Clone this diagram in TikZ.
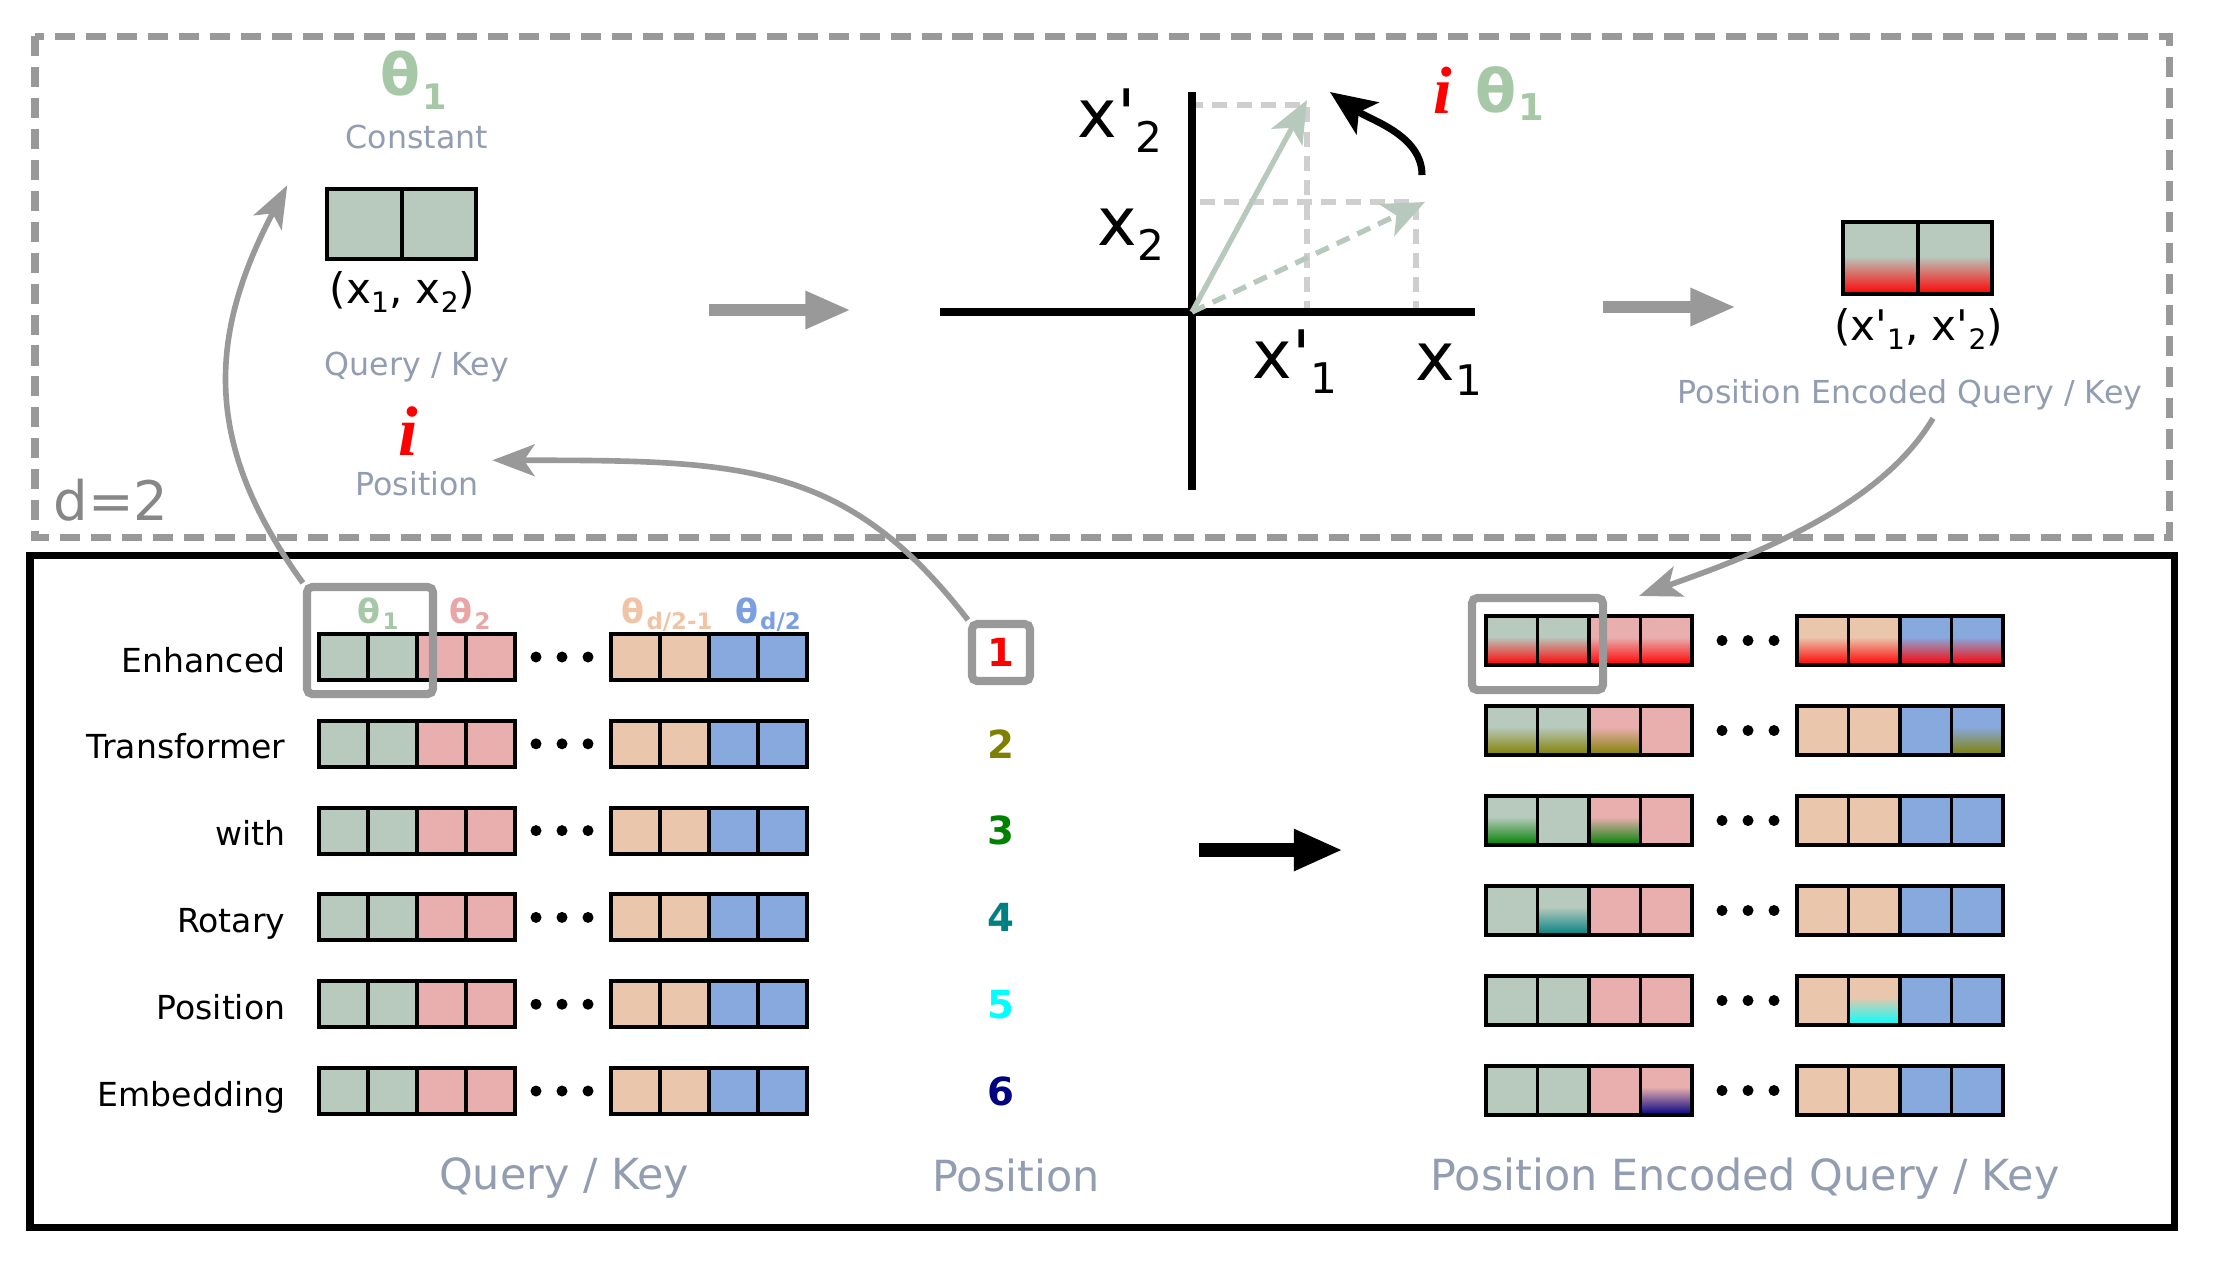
\documentclass[tikz,border=0pt]{standalone}
\usepackage{fontspec}
\setmainfont{DejaVu Sans}
\newfontfamily\serifbi{Liberation Serif}
\usetikzlibrary{arrows.meta,calc,positioning}

\definecolor{cellG}{HTML}{B8C9BD}
\definecolor{cellP}{HTML}{E9AFAF}
\definecolor{cellO}{HTML}{EAC7AC}
\definecolor{cellB}{HTML}{87A9DE}
\definecolor{thG}{HTML}{A6C8A6}
\definecolor{thP}{HTML}{E8A6A6}
\definecolor{thO}{HTML}{F0C4A4}
\definecolor{thB}{HTML}{7B9FE0}
\definecolor{labgray}{HTML}{929DB1}
\definecolor{arrgray}{HTML}{999999}
\definecolor{projgray}{HTML}{CFCFCF}
\definecolor{vecgreen}{HTML}{B7C8BC}
\definecolor{posA}{HTML}{FF0000}
\definecolor{posB}{HTML}{808000}
\definecolor{posC}{HTML}{008000}
\definecolor{posD}{HTML}{008080}
\definecolor{posE}{HTML}{00FFFF}
\definecolor{posF}{HTML}{000080}
\colorlet{cbase1}{cellG}\colorlet{cbase2}{cellG}
\colorlet{cbase3}{cellP}\colorlet{cbase4}{cellP}
\colorlet{cbase5}{cellO}\colorlet{cbase6}{cellO}
\colorlet{cbase7}{cellB}\colorlet{cbase8}{cellB}

\tikzset{%
  % Specifications for style of cells, labels and arrows:
  cellbox/.style    = {draw=black, line width=1.1pt},
  hlbox/.style      = {draw=arrgray, line width=2.3pt, rounded corners=1.5pt, inner sep=0pt},
  lab/.style        = {text=labgray, inner sep=0pt, font=\fontsize{9}{10}\selectfont},
  biglab/.style     = {text=labgray, inner sep=0pt, font=\fontsize{12.2}{14}\selectfont},
  rowlab/.style     = {anchor=base east, inner sep=0pt, font=\fontsize{9.4}{11}\selectfont},
  numlab/.style     = {inner sep=0pt, font=\bfseries\fontsize{11}{12}\selectfont},
  axlab/.style      = {anchor=base west, inner sep=0pt, font=\fontsize{19}{20}\selectfont},
  blockarrow/.style = {draw=arrgray, line width=3.6pt, -{Triangle[length=13pt,width=10pt]}},
  curvearrow/.style = {draw=arrgray, line width=1.6pt, -{Stealth[length=12pt,width=9pt,inset=3pt]}},
  vec/.style        = {draw=vecgreen, line width=1.5pt, -{Stealth[length=12pt,width=10pt,inset=3pt]}},
  projline/.style   = {draw=projgray, line width=1.7pt, dash pattern=on 4.3pt off 2.6pt}
}

\newcommand{\axsub}[1]{\raisebox{-4.3pt}{\fontsize{12}{12}\selectfont #1}}
\newcommand{\smsub}[1]{\raisebox{-2.6pt}{\fontsize{8}{8}\selectfont #1}}
% theta with subscript: size, subscript size, drop, subscript
\newcommand{\thetalab}[4]{{\bfseries\fontsize{#1}{#1}\selectfont θ\kern0.6pt\raisebox{#3}{\fontsize{#2}{#2}\selectfont #4}}}

\begin{document}
\begin{tikzpicture}[x=0.01cm, y=-0.01cm]
  \useasboundingbox (0,0) rectangle (2224,1262);

  % frames
  \draw[draw=arrgray, line width=2pt, dash pattern=on 5.7pt off 3.1pt] (35,36) rectangle (2169,537);
  \draw[line width=2pt] (30,555) rectangle (2174,1227);
  \node (dtwo) [anchor=base west, inner sep=0pt, text=black!47, font=\fontsize{15.5}{16}\selectfont] at (53,520) {d=2};

  % top left: query / key with d=2
  \node (thtop) [anchor=base west, inner sep=0pt, text=thG] at (380,95) {\thetalab{16.5}{10}{-4.2pt}{1}};
  \node (const) [lab, anchor=base] at (417,148) {Constant};
  \node (qkbox) [inner sep=0pt, minimum width=1.49cm, minimum height=0.70cm] at (402.5,225) {};
  \foreach \k in {0,1}
    \draw[cellbox, fill=cellG] ($(qkbox.north west)+(74.5*\k,0)$) rectangle ++(74.5,70);
  \node (qkxy) [below=0.10cm of qkbox, inner sep=0pt, font=\fontsize{12}{13}\selectfont] {(x\smsub{1}, x\smsub{2})};
  \node (qkTop) [lab, anchor=base] at (417,375) {Query / Key};
  \node (itop) [anchor=base, inner sep=0pt, text=red, font=\serifbi\bfseries\itshape\fontsize{20}{20}\selectfont] at (408,455) {i};
  \node (posTop) [lab, anchor=base] at (417,495) {Position};

  % rotation in the plane
  \coordinate (org) at (1192,312);
  \coordinate (rot) at (1307,100);
  \coordinate (orig) at (1425,202);
  \draw[projline] (1188,105) -- (1307,105) -- (1307,310);
  \draw[projline] (1200,202) -- (1416,202) -- (1416,312);
  \draw[line width=2.2pt] (940,312) -- (1475,312);
  \draw[line width=2.4pt] (1192,92) -- (1192,490);
  \draw[vec] (org) -- (rot);
  \draw[vec, dash pattern=on 4pt off 2.5pt] (org) -- (orig);
  \coordinate (rs) at (1422,175);
  \coordinate (re) at (1330,92);
  \draw[line width=2pt, -{Stealth[length=13pt,width=11pt,inset=3pt]}] (rs) .. controls +(0,-40) and +(40,28) .. (re);
  \node (xp2) [axlab] at (1077,137) {x\textquotesingle\axsub{2}};
  \node (xo2) [axlab] at (1097,245) {x\axsub{2}};
  \node (xp1) [axlab] at (1252,378) {x\textquotesingle\axsub{1}};
  \node (xo1) [axlab] at (1415,380) {x\axsub{1}};
  \node (irot) [anchor=base west, inner sep=0pt, text=red, font=\serifbi\bfseries\itshape\fontsize{19}{19}\selectfont] at (1433,113) {i};
  \node (throt) [anchor=base west, inner sep=0pt, text=thG] at (1475,112) {\thetalab{17}{10.5}{-2.5pt}{1}};

  % top right: position encoded query / key
  \node (pekbox) [inner sep=0pt, minimum width=1.49cm, minimum height=0.72cm] at (1918.5,259) {};
  \foreach \k in {0,1}{
    \fill[cellG] ($(pekbox.north west)+(74.5*\k,0)$) rectangle ++(74.5,72);
    \shade[top color=cellG, bottom color=posA] ($(pekbox.north west)+(74.5*\k,34)$) rectangle ++(74.5,38);
    \draw[cellbox] ($(pekbox.north west)+(74.5*\k,0)$) rectangle ++(74.5,72);
  }
  \node (pekxy) [below=0.12cm of pekbox, inner sep=0pt, font=\fontsize{12}{13}\selectfont] {(x\textquotesingle\smsub{1}, x\textquotesingle\smsub{2})};
  \node (pekTop) [lab, anchor=base] at (1910,403) {Position Encoded Query / Key};

  \coordinate (ga1s) at (709,310);  \coordinate (ga1e) at (851,310);
  \coordinate (ga2s) at (1603,307); \coordinate (ga2e) at (1736,307);
  \draw[blockarrow] (ga1s) -- (ga1e);
  \draw[blockarrow] (ga2s) -- (ga2e);

  % bottom left: query / key of every position
  \foreach \rw/\txt in {0/Enhanced, 1/Transformer, 2/with, 3/Rotary, 4/Position, 5/Embedding}{
    \pgfmathsetmacro\yt{634+86.8*\rw}
    \node (row\rw) [rowlab] at (286,\yt+38) {\txt};
    \foreach \ci in {1,...,8}{
      \pgfmathsetmacro\xl{ifthenelse(\ci<5, 319+(\ci-1)*49, 611+(\ci-5)*49)}
      \draw[cellbox, fill=cbase\ci] (\xl,\yt) rectangle ++(49,46);
    }
    \foreach \k in {-26,0,26}
      \fill (562+\k,\yt+23) circle[radius=0.055cm];
  }
  \node (thA) [anchor=base, inner sep=0pt, text=thG] at (378,623) {\thetalab{9.5}{6.5}{-1.8pt}{1}};
  \node (thB) [anchor=base, inner sep=0pt, text=thP] at (470,623) {\thetalab{9.5}{6.5}{-1.8pt}{2}};
  \node (thC) [anchor=base, inner sep=0pt, text=thO] at (667,623) {\thetalab{9.5}{6.5}{-1.8pt}{d/2-1}};
  \node (thD) [anchor=base, inner sep=0pt, text=thB] at (768,623) {\thetalab{9.5}{6.5}{-1.8pt}{d/2}};
  \node (hlL) [hlbox, minimum width=1.26cm, minimum height=1.07cm] at (370,640.5) {};

  % positions
  \node (num1) [numlab, text=posA, draw=arrgray, line width=2.3pt, rounded corners=1.5pt,
                minimum width=0.58cm, minimum height=0.57cm] at (1001,652.5) {1};
  \foreach \n/\pc in {2/posB, 3/posC, 4/posD, 5/posE, 6/posF}
    \node (num\n) [numlab, text=\pc] at (1001,657+86.8*\n-86.8) {\n};

  \node (qkBot)  [biglab, anchor=base] at (564,1189) {Query / Key};
  \node (posBot) [biglab, anchor=base] at (1016,1191) {Position};

  \coordinate (ba1) at (1199,850);
  \coordinate (ba2) at (1343,850);
  \draw[line width=4pt, -{Triangle[length=14pt,width=11pt]}] (ba1) -- (ba2);

  % bottom right: position encoded query / key
  \foreach \rw/\pc/\shl in {0/posA/{1,2,3,4,5,6,7,8}, 1/posB/{1,2,3,8}, 2/posC/{1,3},
                            3/posD/{2}, 4/posE/{6}, 5/posF/{4}}{
    \pgfmathsetmacro\yt{616+90*\rw}
    \foreach \ci in {1,...,8}{
      \pgfmathsetmacro\xl{ifthenelse(\ci<5, 1486+(\ci-1)*51.5, 1797+(\ci-5)*51.5)}
      \fill[cbase\ci] (\xl,\yt) rectangle ++(51.5,49);
    }
    \foreach \s in \shl{
      \pgfmathsetmacro\xl{ifthenelse(\s<5, 1486+(\s-1)*51.5, 1797+(\s-5)*51.5)}
      \shade[top color=cbase\s, bottom color=\pc] (\xl,\yt+21) rectangle ++(51.5,28);
    }
    \foreach \ci in {1,...,8}{
      \pgfmathsetmacro\xl{ifthenelse(\ci<5, 1486+(\ci-1)*51.5, 1797+(\ci-5)*51.5)}
      \draw[cellbox] (\xl,\yt) rectangle ++(51.5,49);
    }
    \foreach \k in {-26,0,26}
      \fill (1748+\k,\yt+24.5) circle[radius=0.055cm];
  }
  \node (hlR) [hlbox, minimum width=1.31cm, minimum height=0.92cm] at (1537.5,644) {};
  \node (pekBot) [biglab, anchor=base] at (1745,1190) {Position Encoded Query / Key};

  % connectors
  \coordinate (c1end) at ($(qkbox.north west)+(-40,-4)$);
  \coordinate (c2end) at ($(posTop.north east)+(13,-10)$);
  \coordinate (c3start) at ($(pekTop.south)+(23,8)$);
  \coordinate (c3end) at ($(hlR.north east)+(32,2)$);
  \draw[curvearrow] (hlL.north west) .. controls +(-100,-138) and +(-80,152) .. (c1end);
  \draw[curvearrow] (num1.north west) .. controls +(-122,-158) and +(250,0) .. (c2end);
  \draw[curvearrow] (c3start) .. controls +(-56,95) and +(94,-34) .. (c3end);
\end{tikzpicture}
\end{document}
